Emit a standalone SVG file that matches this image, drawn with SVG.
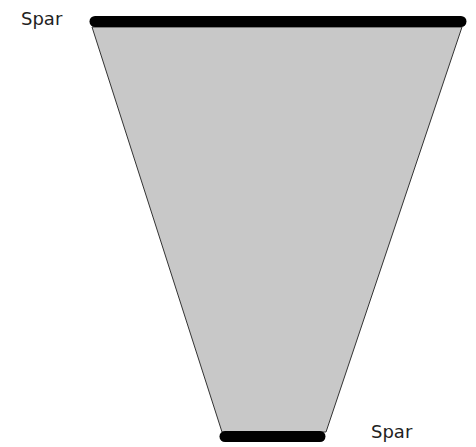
<svg xmlns="http://www.w3.org/2000/svg" width="476" height="447" viewBox="0 0 476 447">
<style>
.label{font-family:"DejaVu Sans",Verdana,sans-serif;font-size:18px;fill:#222}
.spar{stroke:#000;stroke-width:11;stroke-linecap:round}
</style>
<rect width="476" height="447" fill="#fff"/>
<g id="panel">
<polygon points="92,27 462,27 326,432 222,432" fill="#c8c8c8" stroke="#333" stroke-width="1"/>
</g>
<g id="connectors">
<line class="spar" x1="95" y1="21.5" x2="461" y2="21.5"/>
<line class="spar" x1="225" y1="436.5" x2="320" y2="436.5"/>
</g>
<g id="label-top"><text class="label" x="21" y="24.5">Spar</text></g>
<g id="label-bottom"><text class="label" x="371" y="438">Spar</text></g>
</svg>
